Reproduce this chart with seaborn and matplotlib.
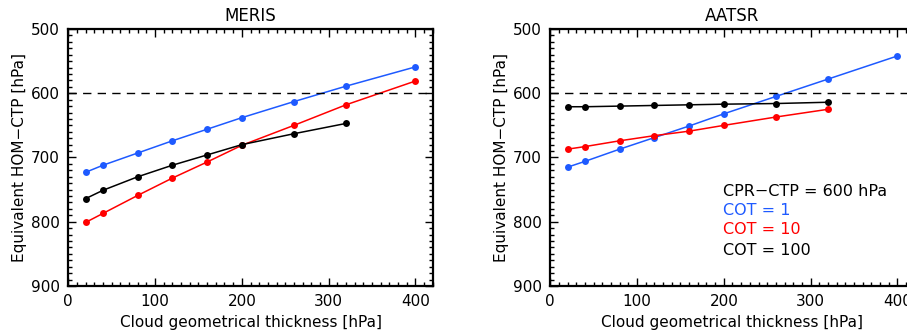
import matplotlib
matplotlib.use("Agg")
import matplotlib.pyplot as plt
from matplotlib.ticker import MultipleLocator
import seaborn as sns
import pandas as pd

# cloud geometrical thickness [hPa]
thick = [20, 40, 80, 120, 160, 200, 260, 320, 400]

# MERIS equivalent HOM-CTP [hPa]
meris_cot1 = [723, 712, 693, 674, 656, 638, 613, 589, 559]
meris_cot10 = [801, 787, 759, 732, 707, 681, 650, 618, 581]
meris_cot100 = [764, 751, 730, 712, 696, 680, 663, 647]

# AATSR equivalent HOM-CTP [hPa]
aatsr_cot1 = [715, 706, 687, 669, 651, 632, 605, 578, 542]
aatsr_cot10 = [687, 683, 674, 666, 659, 650, 637, 625]
aatsr_cot100 = [621, 621, 620, 619, 618, 617, 616, 614]

cpr_ctp = 600
cot_labels = ["COT = 1", "COT = 10", "COT = 100"]
colors = ["#1e5aff", "#ff0000", "#000000"]


def make_df(series):
    rows = []
    for lab, vals in zip(cot_labels, series):
        for x, y in zip(thick, vals):
            rows.append({"thick": x, "ctp": y, "cot": lab})
    return pd.DataFrame(rows)


sns.set_style("ticks")
plt.rcParams["font.family"] = ["DejaVu Sans"]
plt.rcParams["text.color"] = "black"
plt.rcParams["axes.labelcolor"] = "black"
plt.rcParams["xtick.color"] = "black"
plt.rcParams["ytick.color"] = "black"

fig = plt.figure(figsize=(9.07, 3.36), dpi=100)
ax1 = fig.add_axes([0.0753, 0.1488, 0.4018, 0.7649])
ax2 = fig.add_axes([0.6067, 0.1488, 0.4018, 0.7649])

panels = [(ax1, "MERIS", [meris_cot1, meris_cot10, meris_cot100]),
          (ax2, "AATSR", [aatsr_cot1, aatsr_cot10, aatsr_cot100])]

for ax, name, series in panels:
    df = make_df(series)
    sns.lineplot(data=df, x="thick", y="ctp", hue="cot", palette=colors,
                 marker="o", markersize=5, markeredgewidth=0, linewidth=1.1,
                 legend=False, ax=ax)
    ax.axhline(cpr_ctp, color="black", linestyle=(0, (6, 4.5)), linewidth=1)
    ax.set_xlim(0, 420)
    ax.set_ylim(900, 500)
    ax.xaxis.set_major_locator(MultipleLocator(100))
    ax.xaxis.set_minor_locator(MultipleLocator(10))
    ax.yaxis.set_major_locator(MultipleLocator(100))
    ax.yaxis.set_minor_locator(MultipleLocator(10))
    ax.tick_params(which="both", direction="in", top=True, right=True,
                   width=1, labelsize=11, pad=6)
    ax.tick_params(which="major", length=6)
    ax.tick_params(which="minor", length=3)
    for sp in ax.spines.values():
        sp.set_linewidth(1.6)
        sp.set_color("black")
    ax.set_title(name, fontsize=12, pad=6)
    ax.set_xlabel("Cloud geometrical thickness [hPa]", fontsize=11, labelpad=4)
    ax.set_ylabel("Equivalent HOM\u2212CTP [hPa]", fontsize=11, labelpad=3)

legend_lines = ["CPR\u2212CTP = 600 hPa"] + cot_labels
legend_colors = ["black"] + colors
ypos = [0.366, 0.292, 0.218, 0.140]
for txt, c, yy in zip(legend_lines, legend_colors, ypos):
    ax2.text(0.474, yy, txt, color=c, transform=ax2.transAxes,
             fontsize=11.5, va="center", ha="left")

fig.savefig("out.png", dpi=100)
